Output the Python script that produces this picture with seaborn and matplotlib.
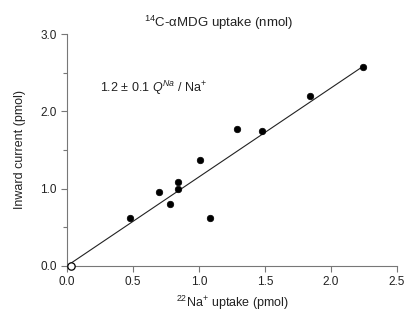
import matplotlib
matplotlib.use('Agg')
import matplotlib.pyplot as plt
import seaborn as sns
import pandas as pd
from matplotlib.ticker import MultipleLocator

# 22Na+ uptake (pmol) vs inward current (pmol)
na_uptake = [0.48, 0.70, 0.78, 0.84, 0.84, 1.01, 1.08, 1.29, 1.48, 1.84, 2.24]
inward_current = [0.62, 0.96, 0.80, 1.09, 0.99, 1.37, 0.62, 1.77, 1.74, 2.20, 2.57]
# open circle near origin
origin_x = [0.03]
origin_y = [0.0]
# fitted line endpoints
fit_x = [0.0, 2.24]
fit_y = [0.0, 2.58]

x_ticks = [0.0, 0.5, 1.0, 1.5, 2.0, 2.5]
y_ticks = [0.0, 1.0, 2.0, 3.0]

sns.set_style('ticks')
plt.rcParams['font.family'] = ['Liberation Sans', 'DejaVu Sans']
plt.rcParams['mathtext.fontset'] = 'custom'
plt.rcParams['mathtext.rm'] = 'Liberation Sans'
plt.rcParams['mathtext.it'] = 'Liberation Sans:italic'

df = pd.DataFrame({'na': na_uptake, 'cur': inward_current})

fig = plt.figure(figsize=(4.06, 3.25), dpi=100)
ax = fig.add_axes([0.165, 0.182, 0.813, 0.713])

sns.lineplot(x=fit_x, y=fit_y, ax=ax, color='#222222', linewidth=0.8)
sns.scatterplot(data=df, x='na', y='cur', ax=ax, color='black', s=22,
                edgecolor='black', linewidth=0.5, zorder=3)
ax.scatter(origin_x, origin_y, s=28, facecolor='white', edgecolor='black',
           linewidth=0.9, zorder=4, clip_on=False)

ax.set_xlim(0, 2.5)
ax.set_ylim(0, 3.0)
ax.set_xticks(x_ticks)
ax.set_xticklabels([f'{t:.1f}' for t in x_ticks])
ax.set_yticks(y_ticks)
ax.set_yticklabels([f'{t:.1f}' for t in y_ticks])
ax.yaxis.set_minor_locator(MultipleLocator(0.5))

for s in ['top', 'right']:
    ax.spines[s].set_visible(False)
for s in ['left', 'bottom']:
    ax.spines[s].set_color('#777777')
    ax.spines[s].set_linewidth(0.8)
ax.tick_params(which='both', direction='out', color='#777777', width=0.8,
               labelsize=8.5, labelcolor='#222222')
ax.tick_params(which='major', length=4)
ax.tick_params(which='minor', length=3)

ax.set_xlabel('$^{22}$Na$^{+}$ uptake (pmol)', fontsize=9, labelpad=4, color='#222222')
ax.set_ylabel('Inward current (pmol)', fontsize=9, labelpad=10, color='#222222')
ax.set_title('$^{14}$C-αMDG uptake (nmol)', fontsize=9.5, pad=5, x=0.46, color='#222222')
ax.text(0.25, 2.30, '1.2 ± 0.1 $Q^{Na}$ / Na$^{+}$', fontsize=9, va='center', color='#222222')

fig.savefig('out.png', dpi=100)
